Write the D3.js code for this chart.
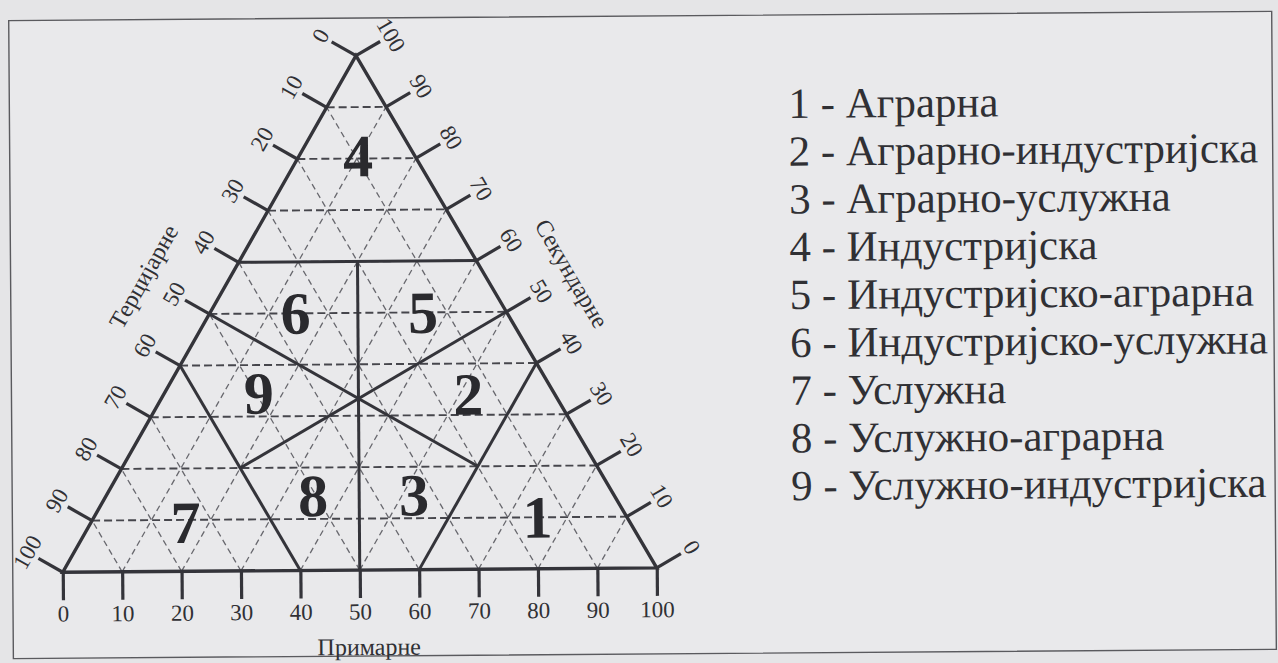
<!DOCTYPE html>
<html>
<head>
<meta charset="utf-8">
<script src="https://cdn.jsdelivr.net/npm/d3@7"></script>
<style>
  body { margin: 0; background: #e5e5e7; }
  svg { display: block; font-family: "Liberation Serif", "Times New Roman", serif; }
</style>
</head>
<body>
<svg id="chart"></svg>
<script>
const w = 1278,
  h = 663,
  ticks = [0, 10, 20, 30, 40, 50, 60, 70, 80, 90, 100],
  gridSteps = [10, 20, 30, 40, 50, 60, 70, 80, 90],
  axisTitles = ["Примарне", "Секундарне", "Терцијарне"];

const legendItems = [
  "1 - Аграрна",
  "2 - Аграрно-индустријска",
  "3 - Аграрно-услужна",
  "4 - Индустријска",
  "5 - Индустријско-аграрна",
  "6 - Индустријско-услужна",
  "7 - Услужна",
  "8 - Услужно-аграрна",
  "9 - Услужно-индустријска"
];

// region numbers, anchored by composition (primary %, secondary %)
const regionNames = ["1", "2", "3", "4", "5", "6", "7", "8", "9"];
const regionP = [75, 51.5, 52, 10, 36, 14.5, 16, 35, 16];
const regionS = [10, 34, 14.5, 80.5, 50, 50, 9.5, 14.5, 34.5];

// class boundaries as [primary, secondary] end points
const boundaryFrom = [[0, 60], [20, 60], [0, 50], [50, 50], [0, 40], [60, 40]];
const boundaryTo = [[40, 60], [50, 0], [60, 20], [20, 20], [40, 0], [60, 0]];

const ink = "#34343a",
  tickLen = 28,
  labelDist = 41,
  cos30 = Math.cos(Math.PI / 6);

const x = d3.scaleLinear().domain([0, 100]).range([61, 655]);
const y = d3.scaleLinear().domain([0, 100]).range([568, 568 - 514.4]);
// ternary point from primary and secondary share
const pt = (p, s) => [x(p) + (x(s) - x(0)) / 2, y(s)];

const svg = d3.select("#chart")
  .attr("width", w)
  .attr("height", h)
  .attr("viewBox", [0, 0, w, h]);

svg.append("rect").attr("width", w).attr("height", h).attr("fill", "#e5e5e7");

// the scan is turned a little
const g = svg.append("g").attr("transform", "rotate(-0.42,640,331)");

g.append("rect")
  .attr("x", 11).attr("y", 16)
  .attr("width", 1263).attr("height", 638)
  .attr("fill", "#e9e9eb")
  .attr("stroke", "#5a5a5e")
  .attr("stroke-width", 1.4);

// dashed grid
const grid = [];
gridSteps.forEach(v => {
  grid.push({ a: pt(0, v), b: pt(100 - v, v), h: true });
  grid.push({ a: pt(v, 0), b: pt(v, 100 - v), h: false });
  grid.push({ a: pt(100 - v, 0), b: pt(0, 100 - v), h: false });
});

g.append("g")
  .selectAll("line")
  .data(grid)
  .join("line")
  .attr("x1", d => d.a[0]).attr("y1", d => d.a[1])
  .attr("x2", d => d.b[0]).attr("y2", d => d.b[1])
  .attr("stroke", d => d.h ? "#46464c" : "#68686e")
  .attr("stroke-width", d => d.h ? 1.9 : 1.3)
  .attr("stroke-dasharray", d => d.h ? "8,4" : "6,4");

// class boundaries
const line = d3.line();
g.append("g")
  .selectAll("path")
  .data(boundaryFrom.map((f, i) => [pt(f[0], f[1]), pt(boundaryTo[i][0], boundaryTo[i][1])]))
  .join("path")
  .attr("d", line)
  .attr("stroke", ink)
  .attr("stroke-width", 3)
  .attr("fill", "none");

// triangle
g.append("path")
  .attr("d", line([pt(0, 0), pt(100, 0), pt(0, 100)]) + "Z")
  .attr("fill", "none")
  .attr("stroke", ink)
  .attr("stroke-width", 3.4)
  .attr("stroke-linejoin", "miter");

// base axis
const baseAxis = d3.axisBottom(x)
  .tickValues(ticks)
  .tickSize(tickLen)
  .tickSizeOuter(0)
  .tickPadding(5);

const bx = g.append("g")
  .attr("transform", `translate(0,${y(0)})`)
  .call(baseAxis);
bx.select(".domain").remove();
bx.selectAll(".tick line").attr("stroke", ink).attr("stroke-width", 3.2);
bx.selectAll(".tick text")
  .attr("fill", "#303034")
  .attr("font-family", "Liberation Serif, serif")
  .attr("font-size", 23);

// side axes: left (tertiary) and right (secondary)
const sides = [
  { at: t => pt(0, 100 - t), dir: [-cos30, -0.5], rot: -60 },
  { at: t => pt(100 - t, t), dir: [cos30, -0.5], rot: 60 }
];

sides.forEach(side => {
  const sg = g.append("g");
  sg.selectAll("line")
    .data(ticks)
    .join("line")
    .attr("x1", t => side.at(t)[0])
    .attr("y1", t => side.at(t)[1])
    .attr("x2", t => side.at(t)[0] + side.dir[0] * tickLen)
    .attr("y2", t => side.at(t)[1] + side.dir[1] * tickLen)
    .attr("stroke", ink)
    .attr("stroke-width", 3.2);
  sg.selectAll("text")
    .data(ticks)
    .join("text")
    .attr("transform", t => {
      const p = side.at(t);
      return `translate(${p[0] + side.dir[0] * labelDist},${p[1] + side.dir[1] * labelDist}) rotate(${side.rot})`;
    })
    .attr("text-anchor", "middle")
    .attr("dy", "0.35em")
    .attr("font-size", 23)
    .attr("fill", "#303034")
    .text(t => t);
});

// axis titles
const titleSpots = [
  { p: pt(51.5, 0), off: [0, 85], rot: 0 },
  { p: pt(50, 50), off: [cos30 * 76, -38], rot: 60 },
  { p: pt(0, 50), off: [-cos30 * 76, -38], rot: -60 }
];

g.append("g")
  .selectAll("text")
  .data(axisTitles)
  .join("text")
  .attr("transform", (d, i) => {
    const s = titleSpots[i];
    return `translate(${s.p[0] + s.off[0]},${s.p[1] + s.off[1]}) rotate(${s.rot})`;
  })
  .attr("text-anchor", "middle")
  .attr("dy", (d, i) => i === 0 ? 0 : "0.35em")
  .attr("font-size", 24)
  .attr("fill", "#303034")
  .text(d => d);

// region numbers
g.append("g")
  .selectAll("text")
  .data(regionNames)
  .join("text")
  .attr("x", (d, i) => pt(regionP[i], regionS[i])[0])
  .attr("y", (d, i) => pt(regionP[i], regionS[i])[1])
  .attr("dy", "0.34em")
  .attr("text-anchor", "middle")
  .attr("font-size", 60)
  .attr("font-weight", "bold")
  .attr("fill", "#2a2a2e")
  .text(d => d);

// legend
g.append("g")
  .selectAll("text")
  .data(legendItems)
  .join("text")
  .attr("x", 790)
  .attr("y", (d, i) => 119 + i * 47.8)
  .attr("font-size", 43)
  .attr("fill", "#303034")
  .text(d => d);
</script>
</body>
</html>
